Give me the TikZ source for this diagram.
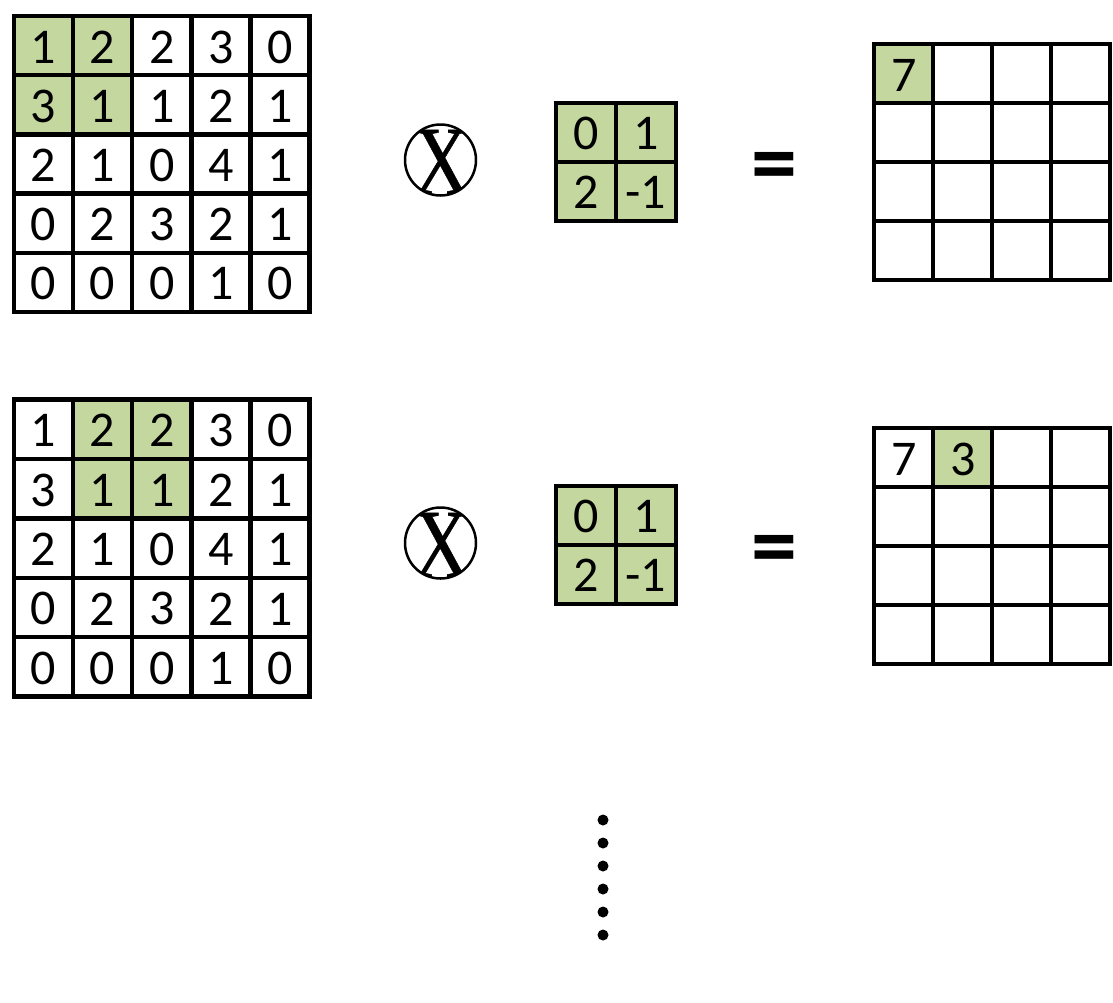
\documentclass[tikz,border=0pt]{standalone}
\usepackage{fontspec}
\setmainfont{Carlito}
\newfontfamily\xserif[FakeBold=0.5]{Liberation Serif}
\definecolor{cellgreen}{RGB}{196,215,158}
\tikzset{
  num/.style={inner sep=0pt, font=\fontsize{50}{60}\selectfont},
  gridline/.style={line width=4.4pt, line cap=rect},
  gridframe/.style={line width=4.4pt, line join=miter},
  opcircle/.style={draw, circle, line width=2.5pt, minimum size=71pt, inner sep=0pt},
  eqsign/.style={inner sep=0pt, font=\fontsize{92}{92}\selectfont\bfseries},
  dotnode/.style={circle, fill=black, minimum size=11pt, inner sep=0pt},
}
\begin{document}
\begin{tikzpicture}[x=1pt, y=-1pt]
\useasboundingbox (0,0) rectangle (1113,1002);
\fill[white] (0,0) rectangle (1113,1002);

% ---------- highlights ----------
\fill[cellgreen] (14,16) rectangle (132.2,134.4);
\fill[cellgreen] (73.1,399.5) rectangle (191.3,518.3);
\fill[cellgreen] (556,103) rectangle (676,221);
\fill[cellgreen] (556,486) rectangle (676,604);
\fill[cellgreen] (874,44) rectangle (933,103);
\fill[cellgreen] (933,428) rectangle (992,487);

% ---------- input grids ----------
\foreach \gy/\nm/\cs in {16/A/59.2, 399.5/B/59.4} {
  \foreach \row [count=\r] in {{1,2,2,3,0},{3,1,1,2,1},{2,1,0,4,1},{0,2,3,2,1},{0,0,0,1,0}} {
    \foreach \v [count=\c] in \row {
      \node[num] (\nm-\r-\c) at ({14+59.1*(\c-0.5)}, {\gy+\cs*(\r-0.5)+1.5}) {\v};
    }
  }
  \foreach \i in {1,...,4} {
    \draw[gridline] ({14+59.1*\i},\gy) -- ({14+59.1*\i},{\gy+5*\cs});
    \draw[gridline] (14,{\gy+\cs*\i}) -- (309.5,{\gy+\cs*\i});
  }
  \draw[gridframe] (14,\gy) rectangle (309.5,{\gy+5*\cs});
}

% ---------- kernels ----------
\foreach \ky/\nm in {103/KA, 486/KB} {
  \node[num] (\nm-1-1) at (586,{\ky+30.5}) {0};
  \node[num] (\nm-1-2) at (646,{\ky+30.5}) {1};
  \node[num] (\nm-2-1) at (586,{\ky+89.5}) {2};
  \node[num] (\nm-2-2) at (646,{\ky+89.5}) {-1};
  \draw[gridline] (616,\ky) -- (616,{\ky+118});
  \draw[gridline] (556,{\ky+59}) -- (676,{\ky+59});
  \draw[gridframe] (556,\ky) rectangle (676,{\ky+118});
}

% ---------- outputs ----------
\foreach \oy in {44, 428} {
  \foreach \i in {1,...,3} {
    \draw[gridline] ({874+59*\i},\oy) -- ({874+59*\i},{\oy+236});
    \draw[gridline] (874,{\oy+59*\i}) -- (1110,{\oy+59*\i});
  }
  \draw[gridframe] (874,\oy) rectangle (1110,{\oy+236});
}
\node[num] (OA-1-1) at (904,75) {7};
\node[num] (OB-1-1) at (904,459) {7};
\node[num] (OB-1-2) at (963,459) {3};

% ---------- operators ----------
\foreach \cy/\nm in {160/A, 543/B} {
  \node[opcircle] (conv\nm) at (440.5,\cy) {};
  \begin{scope}
    \clip (440.5,\cy) circle (35.5pt);
    \node[inner sep=0pt, font=\fontsize{98}{98}\xserif, xscale=0.8] (convX\nm) at (441.5,{\cy+2}) {X};
  \end{scope}
  \node[eqsign] (eq\nm) at (774.5,{\cy+13}) {=};
}

% ---------- dots ----------
\foreach \i in {0,...,5} {
  \node[dotnode] (dot\i) at (603,{820+23*\i}) {};
}
\end{tikzpicture}
\end{document}
